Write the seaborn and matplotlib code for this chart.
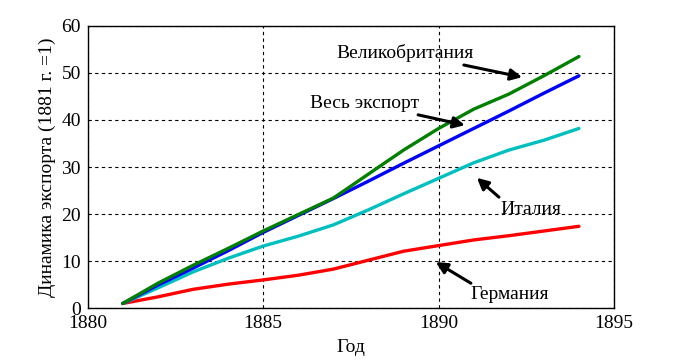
import pandas as pd
import matplotlib
matplotlib.use('Agg')
import matplotlib.pyplot as plt
import seaborn as sns

# Данные (1881 г. = 1)
years = [1881, 1882, 1883, 1884, 1885, 1886, 1887, 1888, 1889, 1890, 1891, 1892, 1893, 1894]
uk = [1.0, 5.3, 9.1, 12.7, 16.4, 19.9, 23.4, 28.5, 33.6, 38.2, 42.3, 45.5, 49.4, 53.5]
total = [1.0, 4.9, 8.5, 12.2, 16.1, 19.7, 23.3, 27.0, 30.8, 34.5, 38.2, 41.9, 45.7, 49.4]
italy = [1.0, 4.3, 7.7, 10.6, 13.2, 15.3, 17.7, 20.9, 24.3, 27.6, 30.9, 33.6, 35.7, 38.2]
germany = [1.0, 2.4, 4.0, 5.1, 6.0, 7.0, 8.3, 10.2, 12.1, 13.3, 14.5, 15.4, 16.4, 17.4]

names = ['Германия', 'Италия', 'Весь экспорт', 'Великобритания']
colors = {'Германия': '#ff0000', 'Италия': '#00bfbf',
          'Весь экспорт': '#0000ff', 'Великобритания': '#008000'}

df = pd.concat([
    pd.DataFrame({'year': years, 'value': germany, 'series': 'Германия'}),
    pd.DataFrame({'year': years, 'value': italy, 'series': 'Италия'}),
    pd.DataFrame({'year': years, 'value': total, 'series': 'Весь экспорт'}),
    pd.DataFrame({'year': years, 'value': uk, 'series': 'Великобритания'}),
])

sns.set_theme(style='white')
plt.rcParams['font.family'] = ['Liberation Serif', 'DejaVu Serif']
plt.rcParams['font.size'] = 14
plt.rcParams['text.color'] = 'black'
plt.rcParams['axes.labelcolor'] = 'black'

fig = plt.figure(figsize=(6.8, 3.6), dpi=100)
ax = fig.add_axes([0.129, 0.144, 0.774, 0.784])

sns.lineplot(data=df, x='year', y='value', hue='series', hue_order=names,
             palette=colors, linewidth=2.4, legend=False, ax=ax)

ax.set_xlim(1880, 1895)
ax.set_ylim(0, 60)
ax.set_xticks([1880, 1885, 1890, 1895])
ax.set_yticks([0, 10, 20, 30, 40, 50, 60])
ax.grid(True, color='black', linestyle=(0, (3, 3)), linewidth=0.8)
ax.set_axisbelow(True)
for s in ax.spines.values():
    s.set_color('black')
    s.set_linewidth(1.0)
ax.tick_params(axis='both', length=0, labelsize=14, colors='black')
ax.tick_params(axis='x', pad=5)
ax.tick_params(axis='y', pad=5)

ax.set_xlabel('Год', fontsize=14, color='black', labelpad=5)
ax.set_ylabel('Динамика экспорта (1881 г. =1)', fontsize=14, color='black', labelpad=4)

arrow = dict(arrowstyle='-|>', color='black', lw=2.2, mutation_scale=17, shrinkA=0, shrinkB=0)
ax.annotate('Великобритания', xy=(1892.38, 49.1), xytext=(1891.0, 54.3),
            ha='right', va='center', fontsize=14, color='black', arrowprops=arrow)
ax.annotate('Весь экспорт', xy=(1890.75, 38.9), xytext=(1889.45, 43.6),
            ha='right', va='center', fontsize=14, color='black', arrowprops=arrow)
ax.annotate('', xy=(1891.09, 27.7), xytext=(1891.72, 23.6), arrowprops=arrow)
ax.text(1891.75, 20.9, 'Италия', ha='left', va='center', fontsize=14, color='black')
ax.annotate('', xy=(1889.92, 9.8), xytext=(1890.92, 5.3), arrowprops=arrow)
ax.text(1890.92, 2.8, 'Германия', ha='left', va='center', fontsize=14, color='black')

fig.savefig('out.png', dpi=100)
